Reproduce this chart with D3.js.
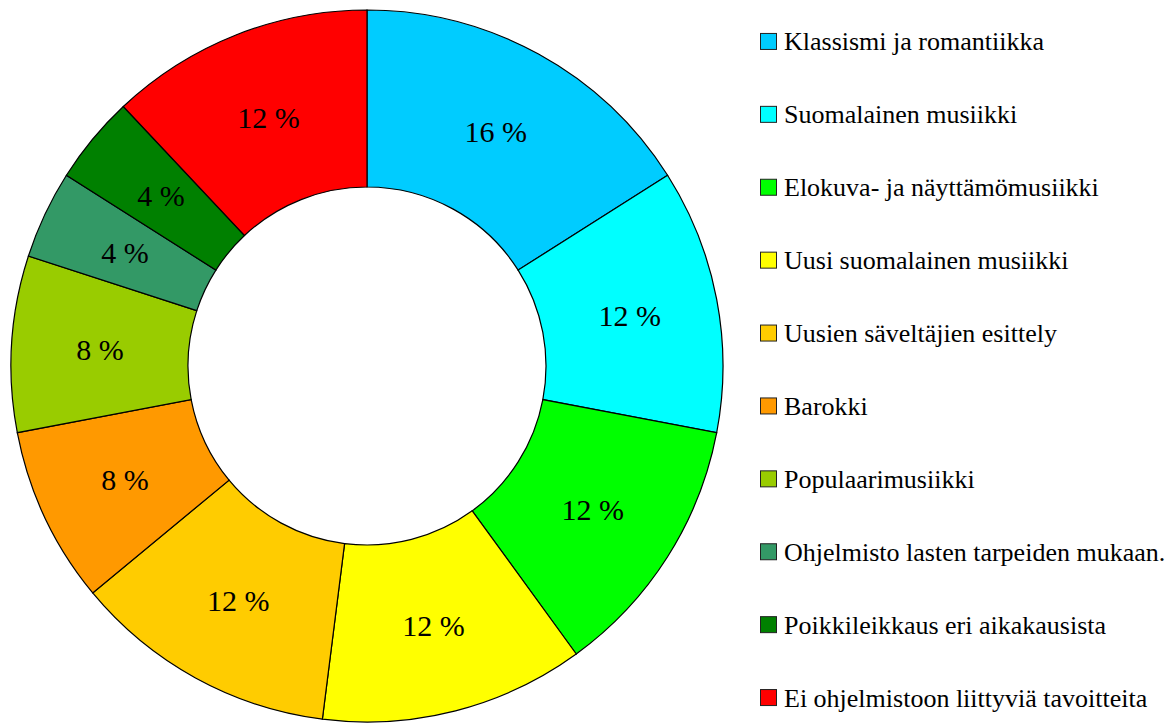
<!DOCTYPE html>
<html>
<head>
<meta charset="utf-8">
<script src="https://cdn.jsdelivr.net/npm/d3@7"></script>
<style>
  body { margin: 0; background: #fff; }
  svg { display: block; }
  svg text { font-family: "Liberation Serif", "DejaVu Serif", "Times New Roman", Times, serif; }
</style>
</head>
<body>
<div id="chart"></div>
<script>
// chart data
var categories = [
  "Klassismi ja romantiikka",
  "Suomalainen musiikki",
  "Elokuva- ja näyttämömusiikki",
  "Uusi suomalainen musiikki",
  "Uusien säveltäjien esittely",
  "Barokki",
  "Populaarimusiikki",
  "Ohjelmisto lasten tarpeiden mukaan.",
  "Poikkileikkaus eri aikakausista",
  "Ei ohjelmistoon liittyviä tavoitteita"
];
var values = [16, 12, 12, 12, 12, 8, 8, 4, 4, 12];
var colors = ["#00ccff", "#00ffff", "#00ff00", "#ffff00", "#ffcc00",
              "#ff9900", "#99cc00", "#339966", "#008000", "#ff0000"];

var svgWidth = 1175;
var svgHeight = 724;

var cx = 367, cy = 366;
var outerR = 356, innerR = 179;

var svg = d3.select("#chart")
  .append("svg")
  .attr("width", svgWidth)
  .attr("height", svgHeight);

var data = categories.map(function(c, i) {
  return { name: c, value: values[i], color: colors[i] };
});

var pie = d3.pie()
  .sort(null)
  .value(function(d) { return d.value; });

var arc = d3.arc()
  .innerRadius(innerR)
  .outerRadius(outerR);

var donut = svg.append("g")
  .attr("transform", "translate(" + cx + "," + cy + ")");

var arcs = pie(data);

donut.selectAll("path")
  .data(arcs)
  .enter()
  .append("path")
  .attr("d", arc)
  .attr("fill", function(d) { return d.data.color; })
  .attr("stroke", "#000")
  .attr("stroke-width", 1.2);

// percent labels at slice centroids
var total = d3.sum(values);
donut.selectAll("text")
  .data(arcs)
  .enter()
  .append("text")
  .attr("x", function(d) { return arc.centroid(d)[0]; })
  .attr("y", function(d) { return arc.centroid(d)[1]; })
  .attr("dy", "0.35em")
  .attr("text-anchor", "middle")
  .attr("font-size", 30)
  .attr("fill", "#000")
  .text(function(d) { return Math.round(d.data.value / total * 100) + " %"; });

// legend
var legendY = d3.scaleBand()
  .domain(categories)
  .range([5, 734])
  .paddingInner(0);

var legend = svg.append("g")
  .attr("transform", "translate(760,0)");

var items = legend.selectAll("g")
  .data(data)
  .enter()
  .append("g")
  .attr("transform", function(d) {
    return "translate(0," + (legendY(d.name) + legendY.bandwidth() / 2) + ")";
  });

items.append("rect")
  .attr("x", 0.5)
  .attr("y", -8)
  .attr("width", 16)
  .attr("height", 16)
  .attr("fill", function(d) { return d.color; })
  .attr("stroke", "#222")
  .attr("stroke-width", 1);

items.append("text")
  .attr("x", 24)
  .attr("y", 9)
  .attr("font-size", 26)
  .attr("fill", "#000")
  .text(function(d) { return d.name; });
</script>
</body>
</html>
